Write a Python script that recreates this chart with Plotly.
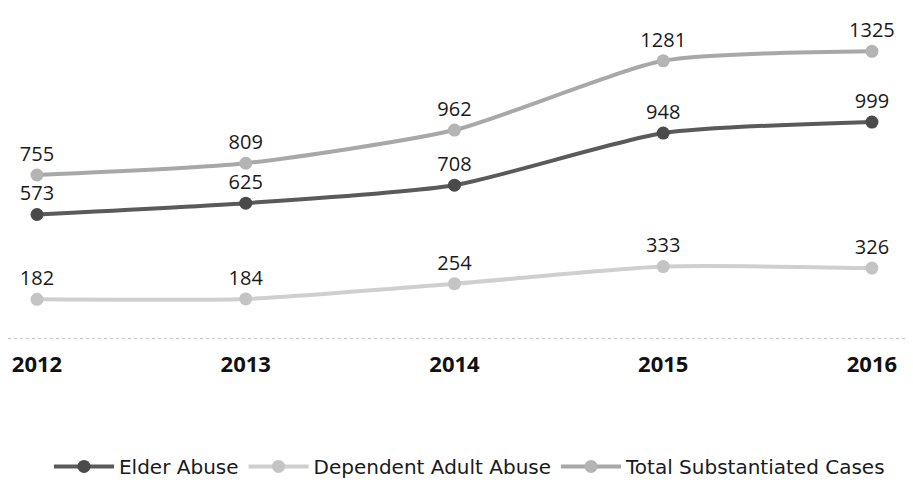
import plotly.graph_objects as go

years = [2012, 2013, 2014, 2015, 2016]
year_labels = ["2012", "2013", "2014", "2015", "2016"]
elder = [573, 625, 708, 948, 999]
dependent = [182, 184, 254, 333, 326]
total = [755, 809, 962, 1281, 1325]

series = [
    ("Elder Abuse", elder, "#5a5a5a", "#4a4a4a"),
    ("Dependent Adult Abuse", dependent, "#cfcfcf", "#c4c4c4"),
    ("Total Substantiated Cases", total, "#a8a8a8", "#b4b4b4"),
]

FONT = "Open Sans, Liberation Sans, sans-serif"

fig = go.Figure()
for name, vals, color, mcolor in series:
    fig.add_trace(go.Scatter(
        x=years, y=vals, name=name, mode="lines+markers+text",
        line=dict(color=color, width=4, shape="spline", smoothing=0.6),
        marker=dict(color=mcolor, size=13),
        text=[str(v) for v in vals], textposition="top center",
        textfont=dict(family=FONT, size=20, color="#1a1a1a"),
        cliponaxis=False,
    ))

# page has an 8px body margin: coordinates below compensate for it
fig.update_layout(
    width=913, height=487,
    margin=dict(l=0, r=0, t=27, b=154),
    paper_bgcolor="white", plot_bgcolor="white",
    font=dict(family=FONT, color="#1a1a1a"),
    showlegend=True,
    legend=dict(orientation="h", xanchor="center", x=0.506, yanchor="middle", y=-0.41,
                font=dict(size=20, family="DejaVu Sans, sans-serif"), itemwidth=60, tracegroupgap=0),
    xaxis=dict(range=[2012 - 0.139, 2016 + 0.235], tickvals=years, ticktext=year_labels,
               showgrid=False, zeroline=False, showline=False,
               tickfont=dict(size=22, family=FONT, color="#111", weight="bold"),
               ticklabelstandoff=8),
    yaxis=dict(range=[-10, 1400], tickvals=[0], showticklabels=False, showgrid=True,
               gridcolor="#c8c8c8", griddash="dot", gridwidth=1, zeroline=False, showline=False),
)
fig.write_html("out.html")
